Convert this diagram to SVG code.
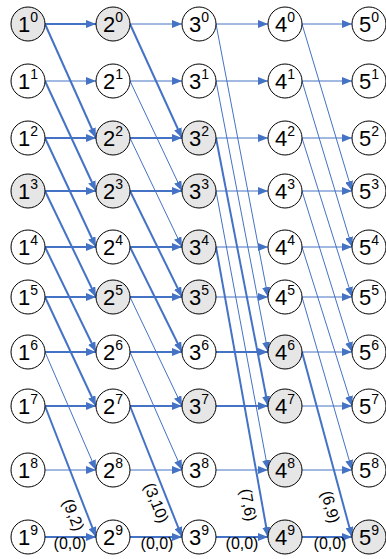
<svg xmlns="http://www.w3.org/2000/svg" width="386" height="559" viewBox="0 0 386 559">
<style>
.n circle{fill:#fff;stroke:#000;stroke-width:1}
.n.g circle{fill:#e6e6e6}
.n text{font-family:"Liberation Sans",Arial,sans-serif;font-size:22px;fill:#000;text-anchor:middle}
.n tspan{font-size:14px}
.e line{stroke:#4472C4;fill:none}
.t{stroke-width:1}
.k{stroke-width:2}
.lb{font-family:"Liberation Sans",Arial,sans-serif;font-size:16px;fill:#000;text-anchor:middle}
</style>
<defs>
<marker id="ah" markerUnits="userSpaceOnUse" markerWidth="10" markerHeight="8" refX="10" refY="4" orient="auto"><path d="M0,0 L10,4 L0,8 z" fill="#4472C4"/></marker>
</defs>
<g id="connectors" class="e">
<line class="k" x1="45" y1="24" x2="96" y2="24" marker-end="url(#ah)"/>
<line class="t" x1="45" y1="81" x2="96" y2="81" marker-end="url(#ah)"/>
<line class="k" x1="45" y1="138" x2="96" y2="138" marker-end="url(#ah)"/>
<line class="k" x1="45" y1="191" x2="96" y2="191" marker-end="url(#ah)"/>
<line class="k" x1="45" y1="247" x2="96" y2="247" marker-end="url(#ah)"/>
<line class="k" x1="45" y1="297" x2="96" y2="297" marker-end="url(#ah)"/>
<line class="k" x1="45" y1="352" x2="96" y2="352" marker-end="url(#ah)"/>
<line class="k" x1="45" y1="406" x2="96" y2="406" marker-end="url(#ah)"/>
<line class="t" x1="45" y1="470" x2="96" y2="470" marker-end="url(#ah)"/>
<line class="k" x1="45" y1="537" x2="96" y2="537" marker-end="url(#ah)"/>
<line class="k" x1="45" y1="24" x2="96" y2="138" marker-end="url(#ah)"/>
<line class="k" x1="45" y1="81" x2="96" y2="191" marker-end="url(#ah)"/>
<line class="k" x1="45" y1="138" x2="96" y2="247" marker-end="url(#ah)"/>
<line class="k" x1="45" y1="191" x2="96" y2="297" marker-end="url(#ah)"/>
<line class="k" x1="45" y1="247" x2="96" y2="352" marker-end="url(#ah)"/>
<line class="k" x1="45" y1="297" x2="96" y2="406" marker-end="url(#ah)"/>
<line class="t" x1="45" y1="352" x2="96" y2="470" marker-end="url(#ah)"/>
<line class="k" x1="45" y1="406" x2="96" y2="537" marker-end="url(#ah)"/>
<line class="t" x1="130" y1="24" x2="182" y2="24" marker-end="url(#ah)"/>
<line class="t" x1="130" y1="81" x2="182" y2="81" marker-end="url(#ah)"/>
<line class="k" x1="130" y1="138" x2="182" y2="138" marker-end="url(#ah)"/>
<line class="k" x1="130" y1="191" x2="182" y2="191" marker-end="url(#ah)"/>
<line class="k" x1="130" y1="247" x2="182" y2="247" marker-end="url(#ah)"/>
<line class="k" x1="130" y1="297" x2="182" y2="297" marker-end="url(#ah)"/>
<line class="k" x1="130" y1="352" x2="182" y2="352" marker-end="url(#ah)"/>
<line class="k" x1="130" y1="406" x2="182" y2="406" marker-end="url(#ah)"/>
<line class="t" x1="130" y1="470" x2="182" y2="470" marker-end="url(#ah)"/>
<line class="k" x1="130" y1="537" x2="182" y2="537" marker-end="url(#ah)"/>
<line class="k" x1="130" y1="24" x2="182" y2="138" marker-end="url(#ah)"/>
<line class="t" x1="130" y1="81" x2="182" y2="191" marker-end="url(#ah)"/>
<line class="t" x1="130" y1="138" x2="182" y2="247" marker-end="url(#ah)"/>
<line class="k" x1="130" y1="191" x2="182" y2="297" marker-end="url(#ah)"/>
<line class="k" x1="130" y1="247" x2="182" y2="352" marker-end="url(#ah)"/>
<line class="t" x1="130" y1="297" x2="182" y2="406" marker-end="url(#ah)"/>
<line class="t" x1="130" y1="352" x2="182" y2="470" marker-end="url(#ah)"/>
<line class="k" x1="130" y1="406" x2="182" y2="537" marker-end="url(#ah)"/>
<line class="t" x1="216" y1="24" x2="268" y2="24" marker-end="url(#ah)"/>
<line class="t" x1="216" y1="81" x2="268" y2="81" marker-end="url(#ah)"/>
<line class="t" x1="216" y1="138" x2="268" y2="138" marker-end="url(#ah)"/>
<line class="t" x1="216" y1="191" x2="268" y2="191" marker-end="url(#ah)"/>
<line class="t" x1="216" y1="247" x2="268" y2="247" marker-end="url(#ah)"/>
<line class="t" x1="216" y1="297" x2="268" y2="297" marker-end="url(#ah)"/>
<line class="k" x1="216" y1="352" x2="268" y2="352" marker-end="url(#ah)"/>
<line class="k" x1="216" y1="406" x2="268" y2="406" marker-end="url(#ah)"/>
<line class="t" x1="216" y1="470" x2="268" y2="470" marker-end="url(#ah)"/>
<line class="k" x1="216" y1="537" x2="268" y2="537" marker-end="url(#ah)"/>
<line class="t" x1="216" y1="24" x2="268" y2="297" marker-end="url(#ah)"/>
<line class="t" x1="216" y1="81" x2="268" y2="352" marker-end="url(#ah)"/>
<line class="k" x1="216" y1="138" x2="268" y2="406" marker-end="url(#ah)"/>
<line class="t" x1="216" y1="191" x2="268" y2="470" marker-end="url(#ah)"/>
<line class="k" x1="216" y1="247" x2="268" y2="537" marker-end="url(#ah)"/>
<line class="t" x1="302" y1="24" x2="352" y2="24" marker-end="url(#ah)"/>
<line class="t" x1="302" y1="81" x2="352" y2="81" marker-end="url(#ah)"/>
<line class="t" x1="302" y1="138" x2="352" y2="138" marker-end="url(#ah)"/>
<line class="t" x1="302" y1="191" x2="352" y2="191" marker-end="url(#ah)"/>
<line class="t" x1="302" y1="247" x2="352" y2="247" marker-end="url(#ah)"/>
<line class="t" x1="302" y1="297" x2="352" y2="297" marker-end="url(#ah)"/>
<line class="t" x1="302" y1="352" x2="352" y2="352" marker-end="url(#ah)"/>
<line class="t" x1="302" y1="406" x2="352" y2="406" marker-end="url(#ah)"/>
<line class="t" x1="302" y1="470" x2="352" y2="470" marker-end="url(#ah)"/>
<line class="k" x1="302" y1="537" x2="352" y2="537" marker-end="url(#ah)"/>
<line class="t" x1="302" y1="24" x2="352" y2="191" marker-end="url(#ah)"/>
<line class="t" x1="302" y1="81" x2="352" y2="247" marker-end="url(#ah)"/>
<line class="t" x1="302" y1="138" x2="352" y2="297" marker-end="url(#ah)"/>
<line class="t" x1="302" y1="191" x2="352" y2="352" marker-end="url(#ah)"/>
<line class="t" x1="302" y1="247" x2="352" y2="406" marker-end="url(#ah)"/>
<line class="t" x1="302" y1="297" x2="352" y2="470" marker-end="url(#ah)"/>
<line class="k" x1="302" y1="352" x2="352" y2="537" marker-end="url(#ah)"/>
</g>
<g id="edge-labels">
<text class="lb" x="70" y="549">(0,0)</text>
<text class="lb" x="157" y="549">(0,0)</text>
<text class="lb" x="242" y="549">(0,0)</text>
<text class="lb" x="330" y="549">(0,0)</text>
<text class="lb" transform="translate(73,515) rotate(68.7)" x="0" y="5">(9,2)</text>
<text class="lb" transform="translate(156,503) rotate(68.3)" x="0" y="5">(3,10)</text>
<text class="lb" transform="translate(248,505) rotate(79.8)" x="0" y="5">(7,6)</text>
<text class="lb" transform="translate(330,507) rotate(74.9)" x="0" y="5">(6,9)</text>
</g>
<g id="n1_0" class="n g"><circle cx="28" cy="24" r="17"/><text x="28" y="32">1<tspan dy="-10">0</tspan></text></g>
<g id="n1_1" class="n"><circle cx="28" cy="81" r="17"/><text x="28" y="89">1<tspan dy="-10">1</tspan></text></g>
<g id="n1_2" class="n"><circle cx="28" cy="138" r="17"/><text x="28" y="146">1<tspan dy="-10">2</tspan></text></g>
<g id="n1_3" class="n g"><circle cx="28" cy="191" r="17"/><text x="28" y="199">1<tspan dy="-10">3</tspan></text></g>
<g id="n1_4" class="n"><circle cx="28" cy="247" r="17"/><text x="28" y="255">1<tspan dy="-10">4</tspan></text></g>
<g id="n1_5" class="n"><circle cx="28" cy="297" r="17"/><text x="28" y="305">1<tspan dy="-10">5</tspan></text></g>
<g id="n1_6" class="n"><circle cx="28" cy="352" r="17"/><text x="28" y="360">1<tspan dy="-10">6</tspan></text></g>
<g id="n1_7" class="n"><circle cx="28" cy="406" r="17"/><text x="28" y="414">1<tspan dy="-10">7</tspan></text></g>
<g id="n1_8" class="n"><circle cx="28" cy="470" r="17"/><text x="28" y="478">1<tspan dy="-10">8</tspan></text></g>
<g id="n1_9" class="n"><circle cx="28" cy="537" r="17"/><text x="28" y="545">1<tspan dy="-10">9</tspan></text></g>
<g id="n2_0" class="n g"><circle cx="113" cy="24" r="17"/><text x="113" y="32">2<tspan dy="-10">0</tspan></text></g>
<g id="n2_1" class="n"><circle cx="113" cy="81" r="17"/><text x="113" y="89">2<tspan dy="-10">1</tspan></text></g>
<g id="n2_2" class="n g"><circle cx="113" cy="138" r="17"/><text x="113" y="146">2<tspan dy="-10">2</tspan></text></g>
<g id="n2_3" class="n g"><circle cx="113" cy="191" r="17"/><text x="113" y="199">2<tspan dy="-10">3</tspan></text></g>
<g id="n2_4" class="n"><circle cx="113" cy="247" r="17"/><text x="113" y="255">2<tspan dy="-10">4</tspan></text></g>
<g id="n2_5" class="n g"><circle cx="113" cy="297" r="17"/><text x="113" y="305">2<tspan dy="-10">5</tspan></text></g>
<g id="n2_6" class="n"><circle cx="113" cy="352" r="17"/><text x="113" y="360">2<tspan dy="-10">6</tspan></text></g>
<g id="n2_7" class="n"><circle cx="113" cy="406" r="17"/><text x="113" y="414">2<tspan dy="-10">7</tspan></text></g>
<g id="n2_8" class="n"><circle cx="113" cy="470" r="17"/><text x="113" y="478">2<tspan dy="-10">8</tspan></text></g>
<g id="n2_9" class="n"><circle cx="113" cy="537" r="17"/><text x="113" y="545">2<tspan dy="-10">9</tspan></text></g>
<g id="n3_0" class="n"><circle cx="199" cy="24" r="17"/><text x="199" y="32">3<tspan dy="-10">0</tspan></text></g>
<g id="n3_1" class="n"><circle cx="199" cy="81" r="17"/><text x="199" y="89">3<tspan dy="-10">1</tspan></text></g>
<g id="n3_2" class="n g"><circle cx="199" cy="138" r="17"/><text x="199" y="146">3<tspan dy="-10">2</tspan></text></g>
<g id="n3_3" class="n g"><circle cx="199" cy="191" r="17"/><text x="199" y="199">3<tspan dy="-10">3</tspan></text></g>
<g id="n3_4" class="n g"><circle cx="199" cy="247" r="17"/><text x="199" y="255">3<tspan dy="-10">4</tspan></text></g>
<g id="n3_5" class="n g"><circle cx="199" cy="297" r="17"/><text x="199" y="305">3<tspan dy="-10">5</tspan></text></g>
<g id="n3_6" class="n"><circle cx="199" cy="352" r="17"/><text x="199" y="360">3<tspan dy="-10">6</tspan></text></g>
<g id="n3_7" class="n g"><circle cx="199" cy="406" r="17"/><text x="199" y="414">3<tspan dy="-10">7</tspan></text></g>
<g id="n3_8" class="n"><circle cx="199" cy="470" r="17"/><text x="199" y="478">3<tspan dy="-10">8</tspan></text></g>
<g id="n3_9" class="n"><circle cx="199" cy="537" r="17"/><text x="199" y="545">3<tspan dy="-10">9</tspan></text></g>
<g id="n4_0" class="n"><circle cx="285" cy="24" r="17"/><text x="285" y="32">4<tspan dy="-10">0</tspan></text></g>
<g id="n4_1" class="n"><circle cx="285" cy="81" r="17"/><text x="285" y="89">4<tspan dy="-10">1</tspan></text></g>
<g id="n4_2" class="n"><circle cx="285" cy="138" r="17"/><text x="285" y="146">4<tspan dy="-10">2</tspan></text></g>
<g id="n4_3" class="n"><circle cx="285" cy="191" r="17"/><text x="285" y="199">4<tspan dy="-10">3</tspan></text></g>
<g id="n4_4" class="n"><circle cx="285" cy="247" r="17"/><text x="285" y="255">4<tspan dy="-10">4</tspan></text></g>
<g id="n4_5" class="n"><circle cx="285" cy="297" r="17"/><text x="285" y="305">4<tspan dy="-10">5</tspan></text></g>
<g id="n4_6" class="n g"><circle cx="285" cy="352" r="17"/><text x="285" y="360">4<tspan dy="-10">6</tspan></text></g>
<g id="n4_7" class="n g"><circle cx="285" cy="406" r="17"/><text x="285" y="414">4<tspan dy="-10">7</tspan></text></g>
<g id="n4_8" class="n g"><circle cx="285" cy="470" r="17"/><text x="285" y="478">4<tspan dy="-10">8</tspan></text></g>
<g id="n4_9" class="n g"><circle cx="285" cy="537" r="17"/><text x="285" y="545">4<tspan dy="-10">9</tspan></text></g>
<g id="n5_0" class="n"><circle cx="369" cy="24" r="17"/><text x="369" y="32">5<tspan dy="-10">0</tspan></text></g>
<g id="n5_1" class="n"><circle cx="369" cy="81" r="17"/><text x="369" y="89">5<tspan dy="-10">1</tspan></text></g>
<g id="n5_2" class="n"><circle cx="369" cy="138" r="17"/><text x="369" y="146">5<tspan dy="-10">2</tspan></text></g>
<g id="n5_3" class="n"><circle cx="369" cy="191" r="17"/><text x="369" y="199">5<tspan dy="-10">3</tspan></text></g>
<g id="n5_4" class="n"><circle cx="369" cy="247" r="17"/><text x="369" y="255">5<tspan dy="-10">4</tspan></text></g>
<g id="n5_5" class="n"><circle cx="369" cy="297" r="17"/><text x="369" y="305">5<tspan dy="-10">5</tspan></text></g>
<g id="n5_6" class="n"><circle cx="369" cy="352" r="17"/><text x="369" y="360">5<tspan dy="-10">6</tspan></text></g>
<g id="n5_7" class="n"><circle cx="369" cy="406" r="17"/><text x="369" y="414">5<tspan dy="-10">7</tspan></text></g>
<g id="n5_8" class="n"><circle cx="369" cy="470" r="17"/><text x="369" y="478">5<tspan dy="-10">8</tspan></text></g>
<g id="n5_9" class="n g"><circle cx="369" cy="537" r="17"/><text x="369" y="545">5<tspan dy="-10">9</tspan></text></g>
</svg>
